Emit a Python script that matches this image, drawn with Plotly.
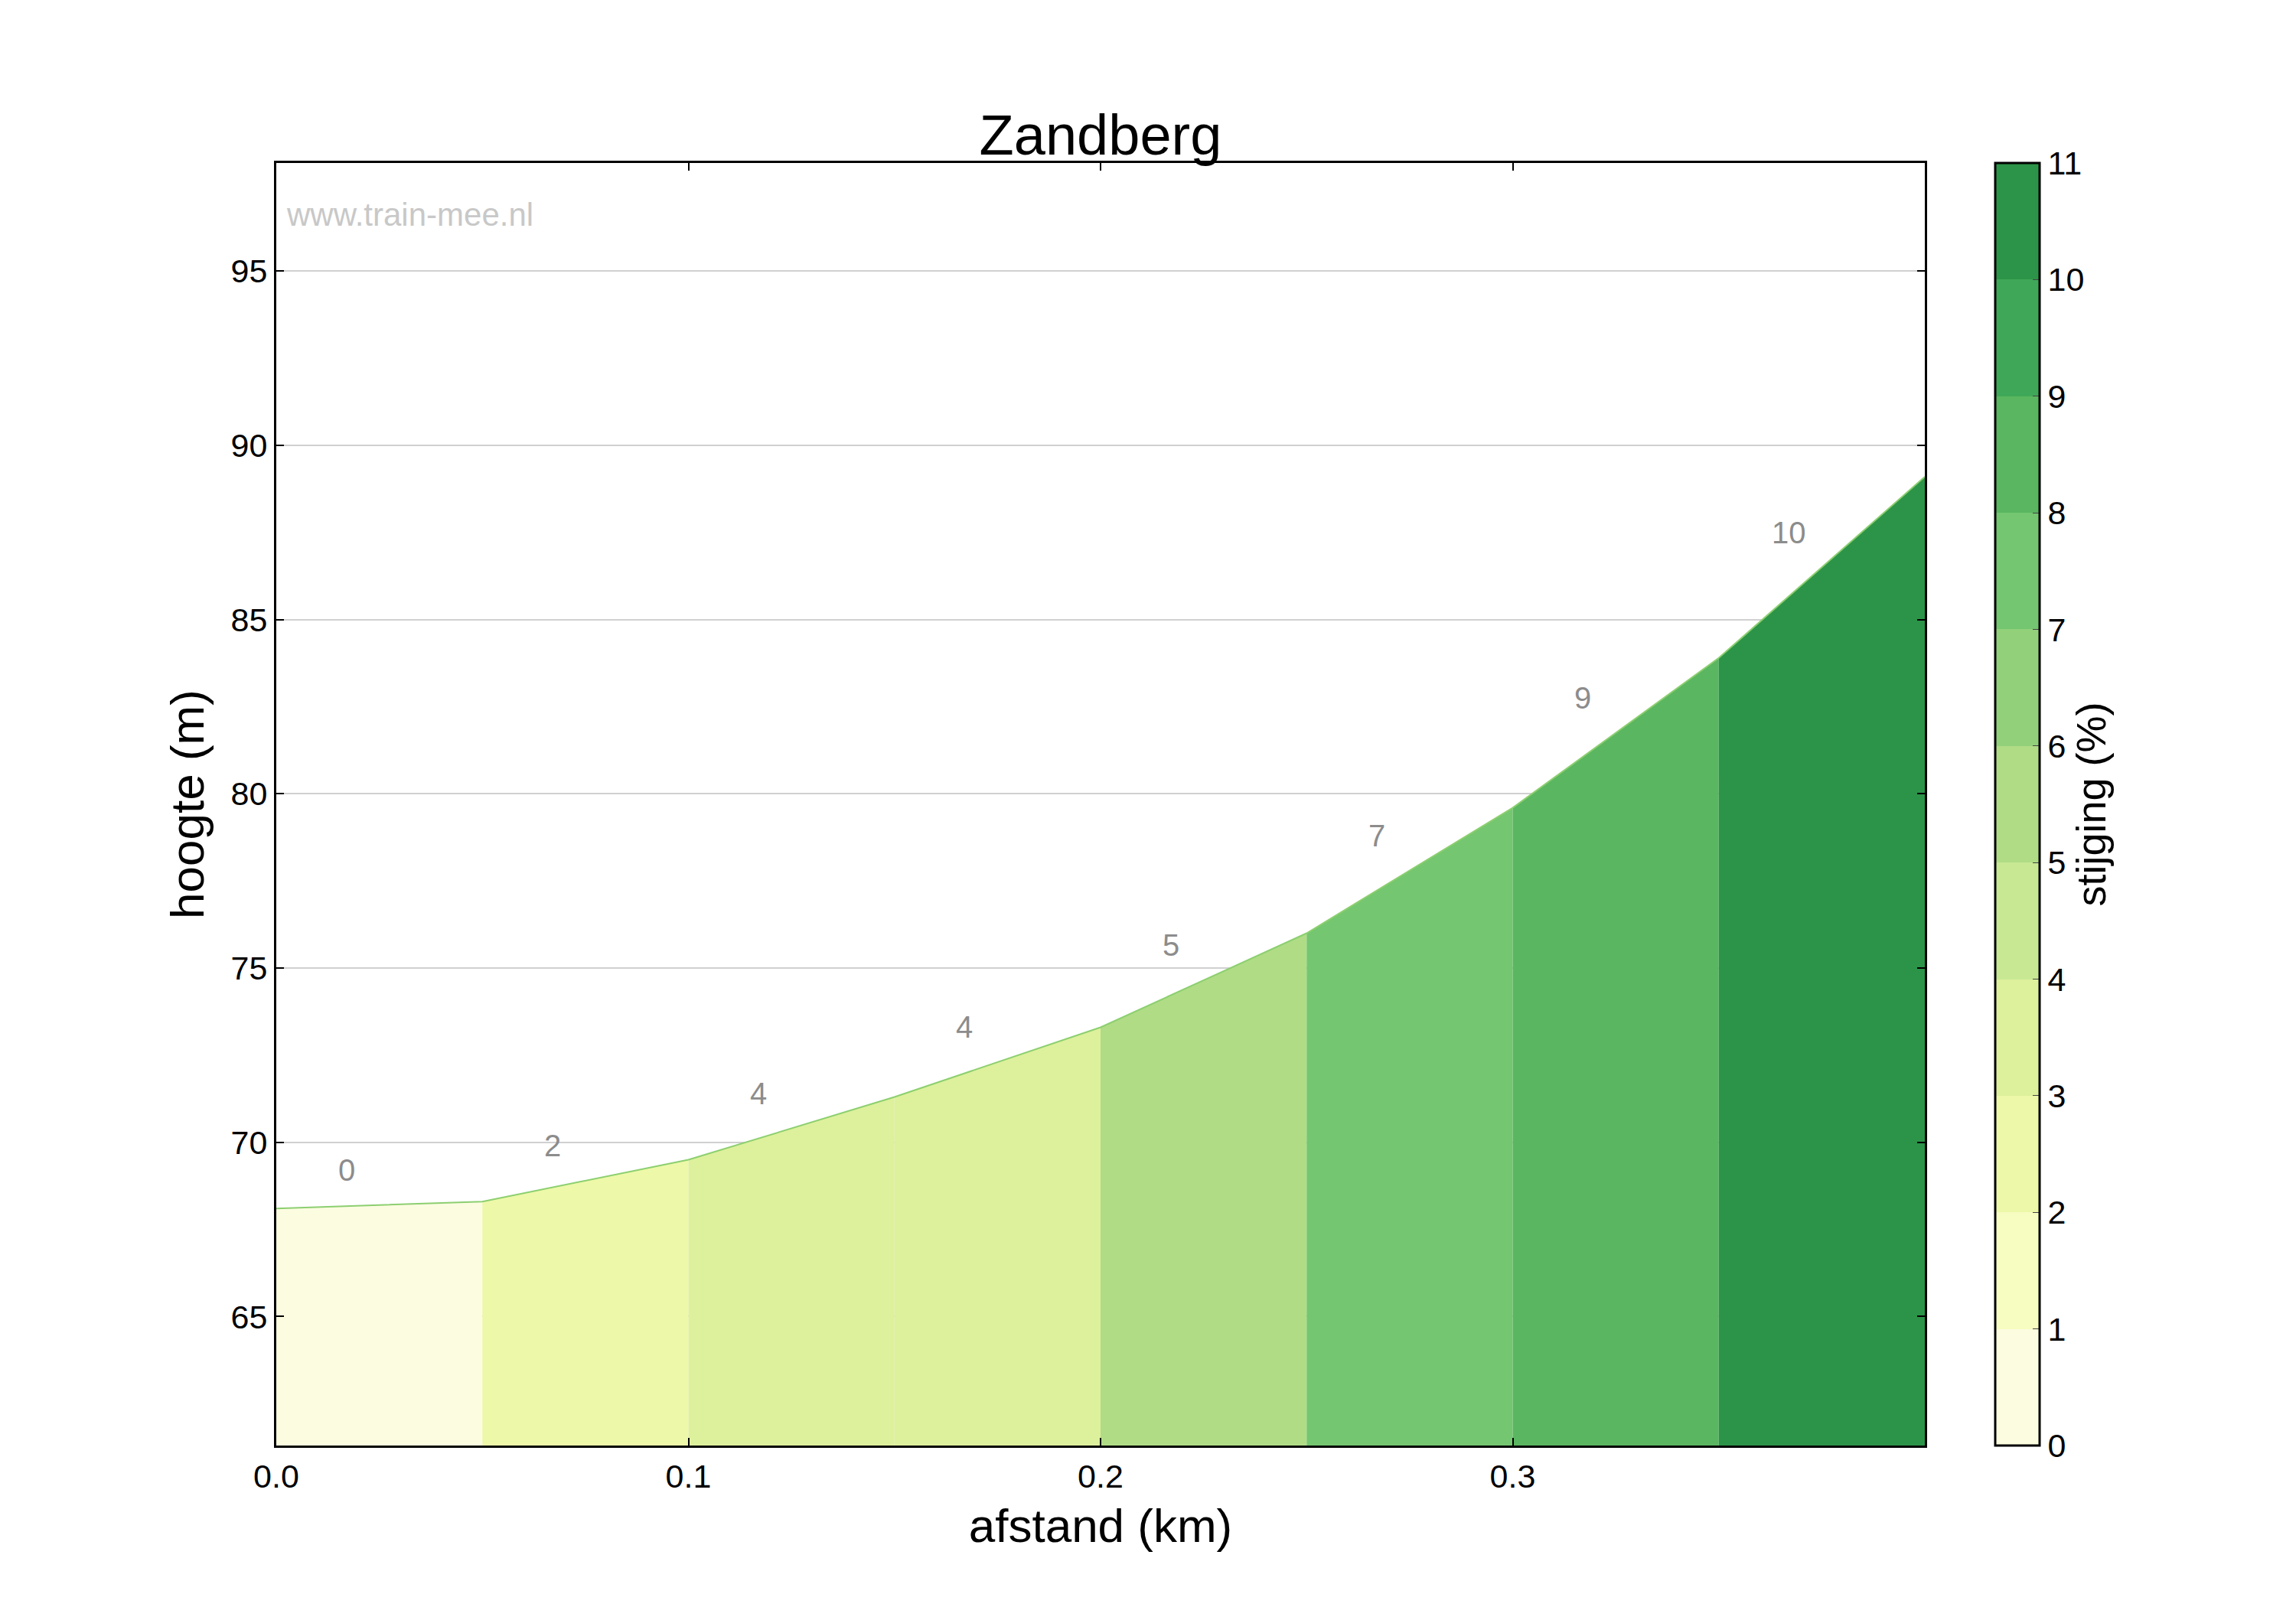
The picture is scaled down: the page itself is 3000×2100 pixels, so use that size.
import plotly.graph_objects as go

# distance (km) and height (m) along the climb
afstand = [0.0, 0.05, 0.1, 0.15, 0.2, 0.25, 0.3, 0.35, 0.4]
hoogte = [68.1, 68.3, 69.5, 71.3, 73.3, 76.0, 79.6, 83.9, 89.1]
stijging = [0, 2, 4, 4, 5, 7, 9, 10]
# colour level used to fill each segment
segment_level = [0, 2, 3, 3, 5, 7, 8, 10]

# discrete colour levels 0..11 %
level_colors = ['#fcfce0', '#f7fcc0', '#edf8a8', '#ddf09c', '#c8e894', '#b0dc86',
                '#93d07a', '#74c670', '#5ab660', '#3fa858', '#2c9448']

y_min, y_max = 61.3, 98.1
font = 'Liberation Sans, Arial, sans-serif'

fig = go.Figure()
for i, lvl in enumerate(segment_level):
    x0, x1 = afstand[i], afstand[i + 1]
    fig.add_trace(go.Scatter(
        x=[x0, x0, x1, x1, x0], y=[y_min, hoogte[i], hoogte[i + 1], y_min, y_min],
        fill='toself', fillcolor=level_colors[lvl], mode='none',
        showlegend=False, hoverinfo='skip'))

fig.add_trace(go.Scatter(x=afstand, y=hoogte, mode='lines', line=dict(color='#8ccf70', width=2),
                         showlegend=False))

for i, s in enumerate(stijging):
    xm = (afstand[i] + afstand[i + 1]) / 2
    ym = (hoogte[i] + hoogte[i + 1]) / 2
    fig.add_annotation(x=xm - 0.008, y=ym + 1.0, text=str(s), showarrow=False,
                       font=dict(size=40, color='#8c8c8c', family=font))

# colourbar via invisible marker trace
scale = []
for k, c in enumerate(level_colors):
    scale.append([k / 11, c])
    scale.append([(k + 1) / 11, c])
fig.add_trace(go.Scatter(
    x=[None], y=[None], mode='markers', showlegend=False,
    marker=dict(color=[0], cmin=0, cmax=11, colorscale=scale, showscale=True,
                colorbar=dict(x=1.0426, xanchor='left', xpad=0, y=0, yanchor='bottom', len=1,
                              ypad=0, thickness=58, outlinecolor='black', outlinewidth=3,
                              tickvals=list(range(12)), ticks='inside', ticklen=10,
                              tickfont=dict(size=43, family=font, color='black'),
                              title=dict(text='stijging (%)', side='right',
                                         font=dict(size=54, family=font, color='black'))))))

fig.add_annotation(x=0.005, y=0.96, xref='paper', yref='paper', xanchor='left', yanchor='middle',
                   text='www.train-mee.nl', showarrow=False,
                   font=dict(size=42, color='#c8c8c8', family=font))

axis_common = dict(showline=True, linecolor='black', linewidth=3, mirror='ticks', ticks='inside',
                   ticklen=10, tickwidth=2, tickcolor='black', zeroline=False,
                   tickfont=dict(size=43, family=font, color='black'))
fig.update_xaxes(range=[0, 0.4], tickvals=[0, 0.1, 0.2, 0.3], ticktext=['0.0', '0.1', '0.2', '0.3'],
                 showgrid=False, title=dict(text='afstand (km)', standoff=20,
                                            font=dict(size=62, family=font, color='black')),
                 **axis_common)
fig.update_yaxes(range=[y_min, y_max], tickvals=[65, 70, 75, 80, 85, 90, 95],
                 showgrid=True, gridcolor='#d0d0d0', gridwidth=2,
                 title=dict(text='hoogte (m)', font=dict(size=62, family=font, color='black')),
                 **axis_common)

fig.update_layout(
    width=3000, height=2100, plot_bgcolor='white', paper_bgcolor='white',
    margin=dict(l=353, r=493, t=205, b=219),
    title=dict(text='Zandberg', x=0.5, xref='paper', y=0.92, yanchor='middle',
               font=dict(size=74, family=font, color='black')),
)

fig.write_html('out.html')
